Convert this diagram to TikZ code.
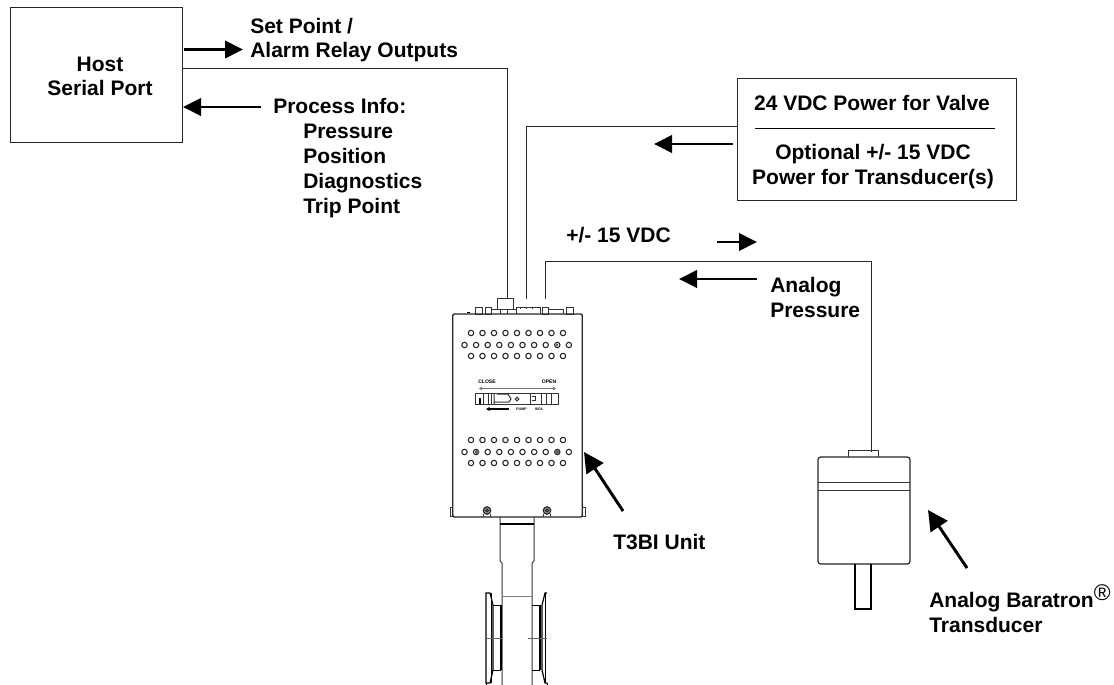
\documentclass[tikz,border=0pt]{standalone}
\usepackage{fontspec}
\setmainfont{Liberation Sans}
\usetikzlibrary{arrows.meta}
\tikzset{
  px/.style={x=0.75pt,y=-0.75pt},
  lbl/.style={font=\fontsize{15.75}{18.6}\selectfont\bfseries,inner sep=0pt,align=left,anchor=base west},
  lblc/.style={font=\fontsize{15.75}{18.6}\selectfont\bfseries,inner sep=0pt,align=center,anchor=base},
  wire/.style={line width=0.7pt,black!85},
  box/.style={draw=black!85,line width=0.75pt,fill=white,inner sep=0pt},
  flow/.style={line width=2pt,-{Triangle[length=13.5pt,width=13pt]}},
  big/.style={line width=2.2pt,-{Triangle[length=15pt,width=15pt]}},
  dwg/.style={line width=0.75pt,black!80},
  hole/.style={line width=0.8pt,black!85,fill=white},
  tiny/.style={font=\fontsize{3.8}{4}\selectfont\bfseries,inner sep=0pt},
  tinyb/.style={font=\fontsize{2.7}{3}\selectfont\bfseries,inner sep=0pt},
}
\begin{document}
\begin{tikzpicture}[px]
\useasboundingbox (0,0) rectangle (1114,685);
\fill[white] (0,0) rectangle (1114,685);
% boxes
\node[box,minimum width=172*0.75pt,minimum height=134.5*0.75pt] (host) at (96.5,75.25) {};
\node[lblc] at (100,96) {Host\\Serial Port};
\node[box,minimum width=279*0.75pt,minimum height=121*0.75pt] (power) at (876.5,139.5) {};
\node[lblc] (p1) at (872,111) {24 VDC Power for Valve};
\coordinate (dl) at (755,128); \coordinate (dr) at (995,128);
\draw[line width=0.7pt] (dl) -- (dr);
\node[lblc] (p2) at (873,184) {Optional +/- 15 VDC\\Power for Transducer(s)};
% unit
\coordinate (u1) at (507,298);
\coordinate (u2) at (526,299);
\coordinate (u3) at (545.5,299);
\coordinate (tc) at (871,452);
\draw[wire] (host.east |- 0,68) -| (u1);
\draw[wire] (power.west |- 0,126) -| (u2);
\draw[wire] (u3) |- (tc |- 0,261) -- (tc);
% connector row
\draw[dwg] (497,309) -- (497,298) -- (513,298) -- (513,309);
\draw[dwg] (475,307) rectangle (482,314);
\draw[dwg] (485,307) rectangle (491,314);
\draw[dwg] (492,309) -- (516,309) -- (516,314) (500,309)--(500,314) (507,309)--(507,314);
\draw[dwg] (516,307) -- (540,307) -- (540,314);
\draw[dwg] (516,308) -- (516,314) (520,307)--(520,309) (526,307)--(526,309) (532,307)--(532,309);
\draw[dwg] (542,307) rectangle (548,314);
\draw[dwg] (548,309) -- (563,309) -- (563,314);
\draw[dwg] (566,307) rectangle (573,314);
\draw[line width=1.2pt] (467,312.5) -- (470,312.5);
\node[draw=black!85,line width=1pt,rounded corners=1pt,minimum width=129.5*0.75pt,minimum height=203*0.75pt,inner sep=0pt] (unit) at (517.5,415.5) {};
% feet
\draw[dwg] (453,507) -- (450,507) -- (450,516) -- (453,516);
\draw[dwg] (582,507) -- (585,507) -- (585,516) -- (582,516);
\foreach \x in {487,547}{
  \draw[line width=0.8pt,black!85,fill=black!45] (\x,510.5) circle (3.8);
  \draw[line width=0.8pt,black!85,fill=white] (\x,510.5) circle (1.4);
  \draw[dwg] (\x-3.5,514) -- (\x-3.5,517) (\x+3.5,514) -- (\x+3.5,517);
}
% holes
\foreach \y in {333,356,440,463}{\foreach \i in {0,...,8}{\draw[hole] (471+\i*11.5,\y) circle (2.7);}}
\foreach \y in {345,452}{\foreach \i in {0,...,9}{\draw[hole] (464.5+\i*11.6,\y) circle (2.7);}}
\fill[black!60] (477,452) circle (2.2) (557,452) circle (2.2) (557,345) circle (1.6);
% switch panel
\node[tiny] at (487,382) {CLOSE};
\node[tiny] at (549,382) {OPEN};
\draw[line width=1.1pt,black!55,{Stealth[length=2.5pt,width=3pt]}-{Stealth[length=2.5pt,width=3pt]}] (479,388.5) -- (556,388.5);
\draw[dwg] (475,393) rectangle (558,404);
\draw[line width=1.3pt] (480,398)--(480,404);
\draw[dwg] (483,393)--(483,404) (488,393)--(488,404) (491,393)--(491,404);
\draw[dwg] (494,393)--(494,404) (494,402) -- (509,402) -- (511,399) -- (508,394) -- (497,394);
\draw[dwg] (517,399) circle (1.8);
\draw[dwg] (530,393)--(530,404) (532,396)--(535,396)--(535,400)--(532,400);
\draw[dwg] (541,393)--(541,404) (546,393)--(546,404) (551,393)--(551,404);
\coordinate (sa) at (509,409); \coordinate (sb) at (486,409);
\draw[line width=0.8pt,-{Stealth[length=3pt,width=3pt]}] (sa) -- (sb);
\node[tinyb] at (521.5,409) {PUMP};
\node[tinyb] at (539,409) {ISOL};
% pipe
\draw[dwg] (500,517) -- (500,561) -- (502,563) -- (502,685);
\draw[dwg] (534,517) -- (534,561) -- (532,563) -- (532,685);
\draw[line width=0.9pt] (500,524) -- (534,524);
\draw[line width=0.5pt,black!50] (502,596) -- (532,596);
% flanges
\draw[line width=0.9pt] (486,593) -- (490,593) -- (493,605) -- (493,670) -- (490,683) -- (486,683) -- cycle;
\draw[line width=0.6pt] (491,593) -- (491,683);
\draw[line width=0.7pt] (493,605) -- (501,605) (493,670) -- (501,670);
\draw[line width=1.1pt] (501,605) -- (501,670);
\draw[line width=0.7pt] (532,605) -- (540,605) (532,670) -- (540,670);
\draw[line width=1.1pt] (540,605) -- (540,670);
\draw[line width=0.9pt] (547,593) -- (545,593) -- (542,605) -- (542,670) -- (545,683) -- (547,683);
\draw[line width=0.7pt] (545,593) -- (545,683);
\draw[line width=0.7pt,black!60] (486,638) -- (503,638) (528,638) -- (547,638);
\draw[line width=0.7pt] (486,683) -- (486,685) (547,683) -- (547,685);
% transducer
\node[draw=black!85,line width=0.9pt,rounded corners=2pt,fill=white,minimum width=92*0.75pt,minimum height=107*0.75pt,inner sep=0pt] (trans) at (864,510.5) {};
\draw[dwg] (848,457) -- (848,450.5) -- (878,450.5) -- (878,457);
\draw[dwg] (818,482.5) -- (910,482.5) (818,490) -- (910,490);
\draw[line width=0.8pt] (855,564) -- (855,609) -- (871,609) -- (871,564);
% arrows
\coordinate (a1s) at (184,49.5); \coordinate (a1e) at (243,49.5);
\coordinate (a2s) at (261,107); \coordinate (a2e) at (183,107);
\coordinate (a3s) at (733,144); \coordinate (a3e) at (654,144);
\coordinate (a4s) at (717,242); \coordinate (a4e) at (757,242);
\coordinate (a5s) at (757,279); \coordinate (a5e) at (679,279);
\coordinate (a6s) at (623,511); \coordinate (a6e) at (584,452);
\coordinate (a7s) at (967,568); \coordinate (a7e) at (928,510);
\draw[flow] (a1s) -- (a1e);
\draw[flow] (a2s) -- (a2e);
\draw[flow] (a3s) -- (a3e);
\draw[flow] (a4s) -- (a4e);
\draw[flow] (a5s) -- (a5e);
\draw[big] (a6s) -- (a6e);
\draw[big] (a7s) -- (a7e);
% labels
\node[lbl] (l1) at (250,58) {Set Point /\\Alarm Relay Outputs};
\node[lbl] (l2) at (273,213) {Process Info:\\\hspace*{22.5pt}Pressure\\\hspace*{22.5pt}Position\\\hspace*{22.5pt}Diagnostics\\\hspace*{22.5pt}Trip Point};
\node[lbl] (l3) at (566,242) {+/- 15 VDC};
\node[lbl] (l4) at (770,317) {Analog\\Pressure};
\node[lbl] (l5) at (613,549) {T3BI Unit};
\node[lbl] (l6) at (929,632) {Analog Baratron\raisebox{5pt}{\fontsize{17}{18}\selectfont\mdseries ®}\\Transducer};
\end{tikzpicture}
\end{document}
